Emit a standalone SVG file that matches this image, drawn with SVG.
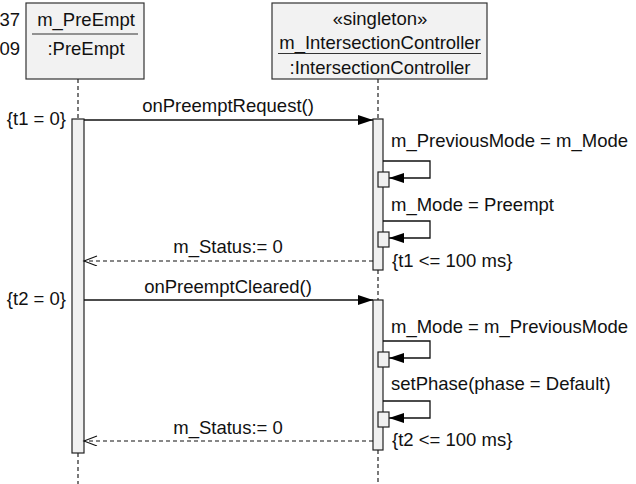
<svg xmlns="http://www.w3.org/2000/svg" width="636" height="484" viewBox="0 0 636 484">
<style>
text{font-family:"Liberation Sans",Arial,sans-serif;font-size:18.5px;fill:#111}
.c{text-anchor:middle}
.e{text-anchor:end}
.box{fill:#f2f2f2;stroke:#333;stroke-width:1.2}
.act{fill:#f0f0f0;stroke:#222;stroke-width:1.2}
.life{stroke:#222;stroke-width:1.2;stroke-dasharray:4 3;fill:none}
.msg{stroke:#111;stroke-width:1.3;fill:none}
.ret{stroke:#111;stroke-width:1.1;stroke-dasharray:4 3;fill:none}
.sep{stroke:#333;stroke-width:1.2}
</style>
<defs>
<marker id="filled" markerUnits="userSpaceOnUse" markerWidth="16" markerHeight="12" refX="15" refY="5" orient="auto">
<path d="M0,0 L15,5 L0,10 z" fill="#000"/>
</marker>
<marker id="open" markerUnits="userSpaceOnUse" markerWidth="16" markerHeight="12" refX="14" refY="5" orient="auto">
<path d="M1,0 L14,5 L1,10" fill="none" stroke="#111" stroke-width="1.1"/>
</marker>
</defs>

<text class="e" x="20" y="26">37</text>
<text class="e" x="20" y="55">09</text>

<g id="preempt">
<rect class="box" x="26" y="3" width="118" height="76"/>
<text class="c" x="86" y="26">m_PreEmpt</text>
<line class="sep" x1="32" y1="34" x2="138" y2="34"/>
<text class="c" x="86" y="55">:PreEmpt</text>
<line class="life" x1="78" y1="79" x2="78" y2="119"/>
<line class="life" x1="78" y1="453" x2="78" y2="484"/>
<rect class="act" x="72" y="119" width="12" height="334"/>
<text class="e" x="66" y="125">{t1 = 0}</text>
<text class="e" x="66" y="305">{t2 = 0}</text>
</g>

<g id="controller">
<rect class="box" x="272" y="3" width="215" height="76"/>
<text class="c" x="380" y="25">«singleton»</text>
<text class="c" x="380" y="49">m_IntersectionController</text>
<line class="sep" x1="278" y1="53.5" x2="481" y2="53.5"/>
<text class="c" x="380" y="74">:IntersectionController</text>
<line class="life" x1="378" y1="79" x2="378" y2="119"/>
<line class="life" x1="378" y1="270" x2="378" y2="300"/>
<line class="life" x1="378" y1="450" x2="378" y2="484"/>
<rect class="act" x="373" y="119" width="10" height="151"/>
<rect class="act" x="373" y="300" width="10" height="150"/>
<text x="392" y="267">{t1 &lt;= 100 ms}</text>
<text x="392" y="446">{t2 &lt;= 100 ms}</text>
</g>

<g id="connectors">
<line class="msg" x1="84" y1="120" x2="373" y2="120" marker-end="url(#filled)"/>
<text class="c" x="228" y="112">onPreemptRequest()</text>

<text x="391" y="147">m_PreviousMode = m_Mode</text>
<path class="msg" d="M383,161 H430 V178 H389" marker-end="url(#filled)"/>
<rect class="act" x="378" y="172" width="11" height="15"/>

<text x="391" y="210.5">m_Mode = Preempt</text>
<path class="msg" d="M383,221 H430 V238 H389" marker-end="url(#filled)"/>
<rect class="act" x="378" y="232" width="11" height="15"/>

<line class="ret" x1="373" y1="261" x2="84" y2="261" marker-end="url(#open)"/>
<text class="c" x="228" y="252.5">m_Status:= 0</text>

<line class="msg" x1="84" y1="300" x2="373" y2="300" marker-end="url(#filled)"/>
<text class="c" x="228" y="293">onPreemptCleared()</text>

<text x="391" y="333">m_Mode = m_PreviousMode</text>
<path class="msg" d="M383,341 H430 V358 H389" marker-end="url(#filled)"/>
<rect class="act" x="378" y="352" width="11" height="15"/>

<text x="391" y="389.5">setPhase(phase = Default)</text>
<path class="msg" d="M383,401 H430 V418 H389" marker-end="url(#filled)"/>
<rect class="act" x="378" y="412" width="11" height="15"/>

<line class="ret" x1="373" y1="441" x2="84" y2="441" marker-end="url(#open)"/>
<text class="c" x="228" y="433.5">m_Status:= 0</text>
</g>
</svg>
